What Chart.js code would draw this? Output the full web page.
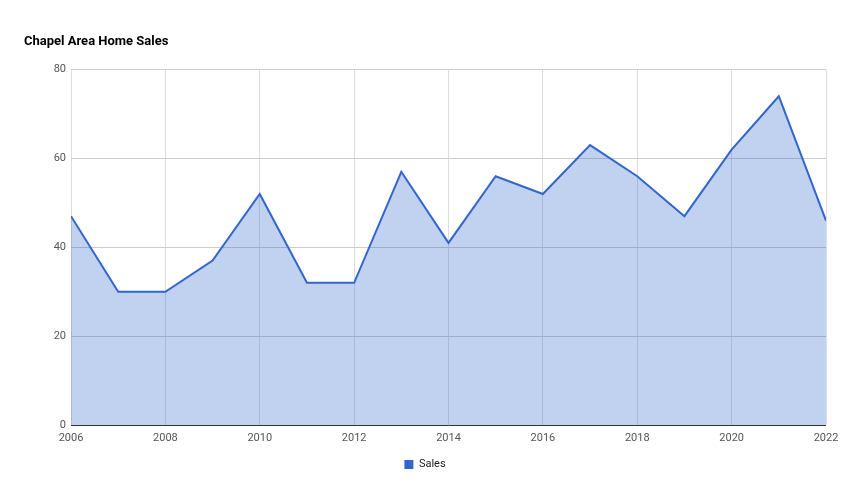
<!DOCTYPE html>
<html>
<head>
<meta charset="utf-8">
<script src="https://cdn.jsdelivr.net/npm/chart.js@4"></script>
<style>
  html, body { margin: 0; padding: 0; background: #fff; }
  #wrap { width: 850px; height: 500px; }
</style>
</head>
<body>
<div id="wrap"><canvas id="salesChart" width="850" height="500"></canvas></div>
<script>
// Chapel area home sales per year
const years = [2006, 2007, 2008, 2009, 2010, 2011, 2012, 2013, 2014, 2015, 2016, 2017, 2018, 2019, 2020, 2021, 2022];
const sales = [47, 30, 30, 37, 52, 32, 32, 57, 41, 56, 52, 63, 56, 47, 62, 74, 46];
const yTicks = [0, 20, 40, 60, 80];
const xTicks = [2006, 2008, 2010, 2012, 2014, 2016, 2018, 2020, 2022];

const points = years.map((yr, i) => ({ x: yr, y: sales[i] }));

new Chart(document.getElementById('salesChart').getContext('2d'), {
    type: 'line',
    data: {
        datasets: [{
            label: 'Sales',
            data: points,
            borderColor: '#3366cc',
            backgroundColor: 'rgba(51, 102, 204, 0.3)',
            borderWidth: 2,
            fill: 'origin',
            tension: 0,
            pointRadius: 0
        }]
    },
    options: {
        responsive: false,
        animation: false,
        layout: { padding: { left: 24, right: 24, top: 30, bottom: 20 } },
        plugins: {
            title: {
                display: true,
                text: 'Chapel Area Home Sales',
                align: 'start',
                color: '#000',
                font: { family: 'Roboto', size: 13, weight: 'bold' },
                padding: { top: 4, bottom: 20 }
            },
            legend: {
                position: 'bottom',
                labels: {
                    color: '#222',
                    font: { family: 'Roboto', size: 11 },
                    boxWidth: 9,
                    boxHeight: 9,
                    padding: 10,
                    // solid square swatch like the original
                    generateLabels: chart => chart.data.datasets.map((ds, i) => ({
                        text: ds.label,
                        fillStyle: ds.borderColor,
                        strokeStyle: ds.borderColor,
                        lineWidth: 0,
                        fontColor: '#222',
                        datasetIndex: i
                    }))
                }
            },
            tooltip: { enabled: false }
        },
        scales: {
            x: {
                type: 'linear',
                min: xTicks[0],
                max: xTicks[xTicks.length - 1],
                afterBuildTicks: scale => { scale.ticks = xTicks.map(v => ({ value: v })); },
                afterFit: scale => { scale.height = 24; },
                ticks: {
                    color: '#555',
                    font: { family: 'Roboto', size: 11 },
                    padding: 7,
                    maxRotation: 0,
                    callback: v => String(v)
                },
                grid: { color: '#dddddd', drawTicks: false },
                border: { display: false }
            },
            y: {
                min: yTicks[0],
                max: yTicks[yTicks.length - 1],
                afterBuildTicks: scale => { scale.ticks = yTicks.map(v => ({ value: v })); },
                afterFit: scale => { scale.width = 47; },
                ticks: {
                    color: '#555',
                    font: { family: 'Roboto', size: 11 },
                    padding: 5
                },
                grid: {
                    color: ctx => ctx.tick && ctx.tick.value === 0 ? '#333333' : '#cccccc',
                    drawTicks: false
                },
                border: { display: false }
            }
        }
    }
});
</script>
</body>
</html>
